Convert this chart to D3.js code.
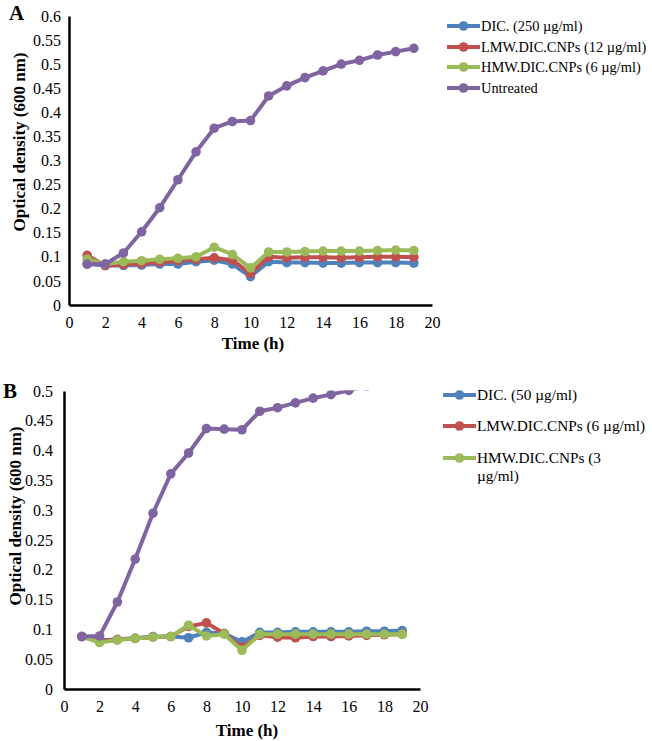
<!DOCTYPE html>
<meta charset="utf-8">
<head>
  <title>Optical density curves</title>
</head>
<style>
  body { margin: 0; background: #fff; }
  svg text { font-family: "Liberation Serif", "Times New Roman", serif; }
  .tick text { font-size: 16px; fill: #000; }
  .axisTitle { font-size: 17px; font-weight: bold; }
  .panelLabel { font-size: 21px; font-weight: bold; }
</style>
<body>
<script src="https://d3js.org/d3.v7.min.js"></script>
<script>
// time points (h)
var hours = [1, 2, 3, 4, 5, 6, 7, 8, 9, 10, 11, 12, 13, 14, 15, 16, 17, 18, 19];

// panel A values
var dicA       = [0.085, 0.082, 0.082, 0.083, 0.085, 0.085, 0.090, 0.093, 0.085, 0.059, 0.090, 0.088, 0.088, 0.087, 0.087, 0.088, 0.088, 0.088, 0.087];
var lmwA       = [0.103, 0.082, 0.084, 0.086, 0.089, 0.092, 0.095, 0.098, 0.093, 0.065, 0.100, 0.098, 0.099, 0.099, 0.098, 0.099, 0.100, 0.100, 0.099];
var hmwA       = [0.095, 0.085, 0.090, 0.092, 0.095, 0.097, 0.100, 0.120, 0.105, 0.077, 0.110, 0.110, 0.111, 0.112, 0.112, 0.112, 0.113, 0.114, 0.113];
var untreatedA = [0.085, 0.085, 0.108, 0.152, 0.202, 0.260, 0.318, 0.367, 0.381, 0.383, 0.434, 0.455, 0.472, 0.486, 0.500, 0.508, 0.519, 0.526, 0.533];

// panel B values
var dicB       = [0.088, 0.082, 0.083, 0.085, 0.088, 0.088, 0.086, 0.095, 0.093, 0.079, 0.095, 0.095, 0.096, 0.096, 0.096, 0.096, 0.097, 0.097, 0.098];
var lmwB       = [0.088, 0.080, 0.083, 0.085, 0.087, 0.088, 0.105, 0.111, 0.093, 0.070, 0.090, 0.087, 0.086, 0.088, 0.088, 0.089, 0.090, 0.091, 0.092];
var hmwB       = [0.088, 0.078, 0.082, 0.085, 0.087, 0.088, 0.107, 0.089, 0.092, 0.065, 0.092, 0.092, 0.092, 0.092, 0.092, 0.092, 0.092, 0.092, 0.092];
var untreatedB = [0.088, 0.089, 0.146, 0.218, 0.295, 0.361, 0.396, 0.437, 0.436, 0.435, 0.466, 0.472, 0.480, 0.488, 0.494, 0.501, 0.508, 0.514, 0.520];

var namesA = ["DIC. (250 \u00b5g/ml)", "LMW.DIC.CNPs (12 \u00b5g/ml)", "HMW.DIC.CNPs (6 \u00b5g/ml)", "Untreated"];
var namesB = ["DIC. (50 \u00b5g/ml)", "LMW.DIC.CNPs (6 \u00b5g/ml)", ["HMW.DIC.CNPs (3", "\u00b5g/ml)"]];

var xTicks = [0, 2, 4, 6, 8, 10, 12, 14, 16, 18, 20];
var yTicksA = [0, 0.05, 0.1, 0.15, 0.2, 0.25, 0.3, 0.35, 0.4, 0.45, 0.5, 0.55, 0.6];
var yTicksB = [0, 0.05, 0.1, 0.15, 0.2, 0.25, 0.3, 0.35, 0.4, 0.45, 0.5];

var colors = ["#4f81bd", "#c0504d", "#9bbb59", "#8064a2"];
var serif = "'Liberation Serif', 'Times New Roman', serif";

var svg = d3.select("body").append("svg")
    .attr("width", 652)
    .attr("height", 741);

function drawPanel(cfg) {
  var g = svg.append("g");

  var x = d3.scaleLinear().domain([0, 20]).range([cfg.left, cfg.right]);
  var y = d3.scaleLinear().domain([0, cfg.yMax]).range([cfg.bottom, cfg.top]);

  // clip so values above the axis max are cut like in Excel
  g.append("clipPath").attr("id", cfg.id + "clip")
    .append("rect")
      .attr("x", cfg.left).attr("y", cfg.top - 0.5)
      .attr("width", cfg.right - cfg.left + 10)
      .attr("height", cfg.bottom - cfg.top + 10);

  // y axis
  var yAxis = d3.axisLeft(y).tickValues(cfg.yTicks).tickSize(0).tickPadding(cfg.yPad)
      .tickFormat(function(d) { return d3.format("~g")(+d.toFixed(2)); });
  g.append("g")
      .attr("transform", "translate(" + cfg.left + ",0)")
      .call(yAxis)
      .attr("font-family", serif).attr("font-size", 16)
      .call(function(s) { s.select(".domain").attr("stroke", "#000").attr("stroke-width", 2.5); });

  // x axis
  var xAxis = d3.axisBottom(x).tickValues(xTicks).tickSize(0).tickPadding(12);
  g.append("g")
      .attr("transform", "translate(0," + cfg.bottom + ")")
      .call(xAxis)
      .attr("font-family", serif).attr("font-size", 16)
      .call(function(s) { s.select(".domain").attr("stroke", "#000").attr("stroke-width", 2.5); });

  // series
  var plot = g.append("g").attr("clip-path", "url(#" + cfg.id + "clip)");
  var line = d3.line().x(function(d, i) { return x(hours[i]); }).y(function(d) { return y(d); });

  cfg.series.forEach(function(vals, k) {
    plot.append("path")
        .datum(vals)
        .attr("fill", "none")
        .attr("stroke", colors[k])
        .attr("stroke-width", 4)
        .attr("stroke-linejoin", "round")
        .attr("d", line);
    plot.selectAll(".m" + k)
        .data(vals)
        .enter().append("circle")
        .attr("class", "m" + k)
        .attr("cx", function(d, i) { return x(hours[i]); })
        .attr("cy", function(d) { return y(d); })
        .attr("r", 4.8)
        .attr("fill", colors[k]);
  });

  // axis titles
  g.append("text")
      .attr("class", "axisTitle")
      .attr("text-anchor", "middle")
      .attr("transform", "translate(" + cfg.yTitleX + "," + cfg.yTitleY + ") rotate(-90)")
      .attr("dy", "0.35em")
      .text("Optical density (600 nm)");

  g.append("text")
      .attr("class", "axisTitle")
      .attr("text-anchor", "middle")
      .attr("x", cfg.xTitleX)
      .attr("y", cfg.xTitleY)
      .text("Time (h)");

  g.append("text")
      .attr("class", "panelLabel")
      .attr("x", cfg.labelX)
      .attr("y", cfg.labelY)
      .text(cfg.label);

  // legend
  var leg = g.append("g").attr("class", "legend").attr("font-size", cfg.legendFont);
  cfg.names.forEach(function(name, k) {
    var ly = cfg.legendY[k];
    leg.append("line")
        .attr("x1", cfg.legendX).attr("x2", cfg.legendX + 33)
        .attr("y1", ly).attr("y2", ly)
        .attr("stroke", colors[k]).attr("stroke-width", 4);
    leg.append("circle")
        .attr("cx", cfg.legendX + 16.5).attr("cy", ly).attr("r", 4.8)
        .attr("fill", colors[k]);
    var lines = Array.isArray(name) ? name : [name];
    var t = leg.append("text")
        .attr("x", cfg.legendX + 34)
        .attr("y", ly);
    lines.forEach(function(s, j) {
      t.append("tspan")
          .attr("x", cfg.legendX + 34)
          .attr("dy", j === 0 ? "0.35em" : "1.15em")
          .text(s);
    });
  });
}

drawPanel({
  id: "A", label: "A", labelX: 9, labelY: 20,
  left: 69, right: 432, top: 16, bottom: 305, yMax: 0.6, yTicks: yTicksA, yPad: 8,
  series: [dicA, lmwA, hmwA, untreatedA],
  names: namesA,
  yTitleX: 19, yTitleY: 142, xTitleX: 253, xTitleY: 349,
  legendX: 447, legendY: [26, 47, 67, 88], legendFont: 14.4
});

drawPanel({
  id: "B", label: "B", labelX: 3, labelY: 398,
  left: 64, right: 420, top: 391, bottom: 689, yMax: 0.5, yTicks: yTicksB, yPad: 11,
  series: [dicB, lmwB, hmwB, untreatedB],
  names: namesB,
  yTitleX: 15, yTitleY: 516, xTitleX: 247, xTitleY: 736,
  legendX: 443, legendY: [395, 426, 458], legendFont: 15.3
});
</script>
</body>
